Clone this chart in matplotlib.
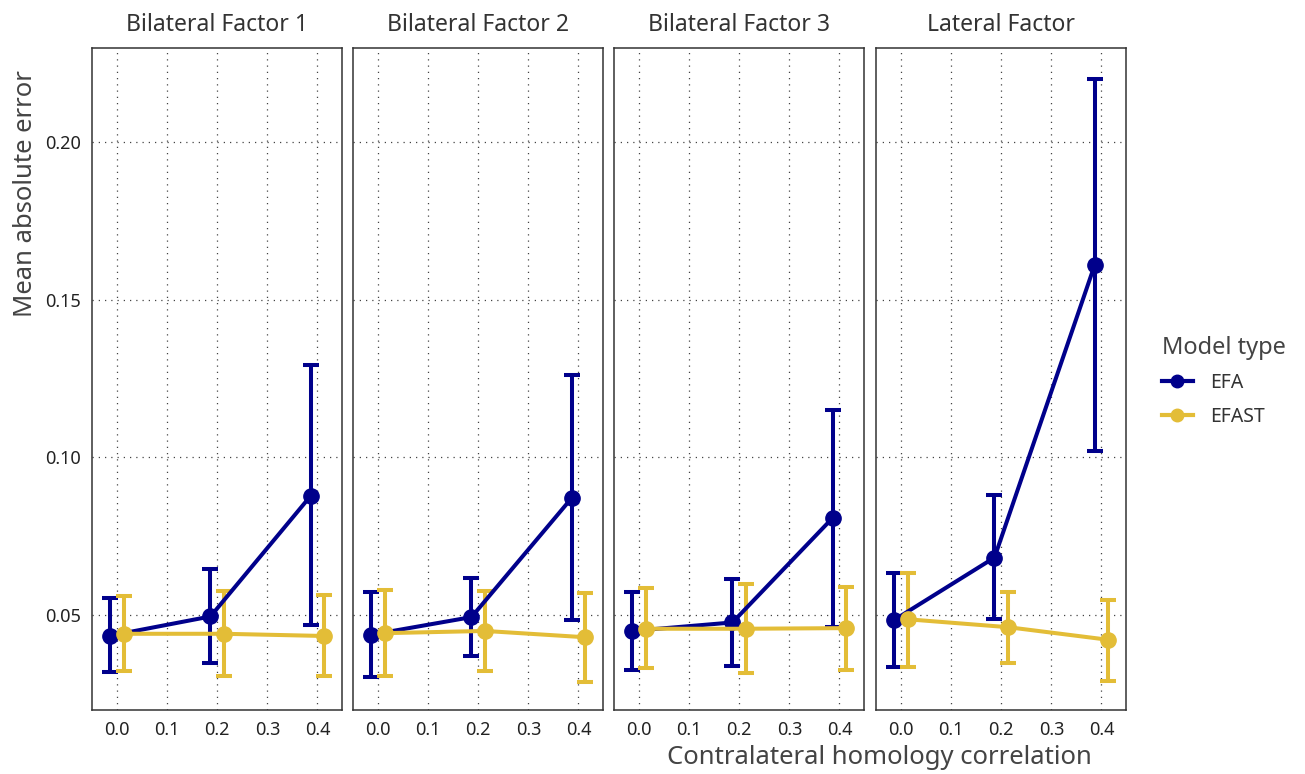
import numpy as np
import matplotlib.pyplot as plt
from matplotlib.lines import Line2D

plt.rcParams['font.family'] = ['Noto Sans', 'DejaVu Sans']

panels = ["Bilateral Factor 1", "Bilateral Factor 2", "Bilateral Factor 3", "Lateral Factor"]
corr = [0.0, 0.2, 0.4]

# mean absolute error, lower / upper error bar, per panel
efa_mean = [[0.0434, 0.0495, 0.0878], [0.0437, 0.0493, 0.0871],
            [0.0449, 0.0476, 0.0808], [0.0484, 0.0682, 0.1611]]
efa_lo = [[0.0319, 0.0347, 0.0467], [0.0304, 0.0370, 0.0484],
          [0.0325, 0.0338, 0.0461], [0.0333, 0.0486, 0.1021]]
efa_hi = [[0.0553, 0.0647, 0.1294], [0.0572, 0.0616, 0.1262],
          [0.0574, 0.0614, 0.1151], [0.0634, 0.0881, 0.2202]]

efast_mean = [[0.0440, 0.0440, 0.0433], [0.0442, 0.0449, 0.0429],
              [0.0456, 0.0456, 0.0458], [0.0486, 0.0461, 0.0421]]
efast_lo = [[0.0323, 0.0307, 0.0307], [0.0306, 0.0323, 0.0288],
            [0.0331, 0.0315, 0.0325], [0.0336, 0.0347, 0.0291]]
efast_hi = [[0.0561, 0.0577, 0.0563], [0.0579, 0.0577, 0.0569],
            [0.0585, 0.0597, 0.0590], [0.0634, 0.0574, 0.0548]]

EFA_COL = "#00008b"
EFAST_COL = "#e3bd37"
dodge = 0.0135

fig = plt.figure(figsize=(13.05, 7.74), dpi=100)
W, H = 1305, 774
lefts = [92, 353, 614, 876]
pw = 250
top, bottom = 48, 710

def series(ax, x, m, lo, hi, col):
    x = np.array(x)
    m = np.array(m)
    yerr = [m - np.array(lo), np.array(hi) - m]
    ax.errorbar(x, m, yerr=yerr, color=col, lw=2.9, marker='o', ms=11,
                capsize=5.5, capthick=2.9, elinewidth=2.9, zorder=3)

for i, name in enumerate(panels):
    ax = fig.add_axes([lefts[i] / W, 1 - bottom / H, pw / W, (bottom - top) / H])
    series(ax, np.array(corr) - dodge, efa_mean[i], efa_lo[i], efa_hi[i], EFA_COL)
    series(ax, np.array(corr) + dodge, efast_mean[i], efast_lo[i], efast_hi[i], EFAST_COL)
    ax.set_xlim(-0.05, 0.449)
    ax.set_ylim(0.0198, 0.23)
    ax.set_xticks([0.0, 0.1, 0.2, 0.3, 0.4])
    ax.set_xticklabels(["0.0", "0.1", "0.2", "0.3", "0.4"])
    ax.set_yticks([0.05, 0.10, 0.15, 0.20])
    if i == 0:
        ax.set_yticklabels(["0.05", "0.10", "0.15", "0.20"])
    else:
        ax.set_yticklabels([])
    ax.tick_params(length=0, labelsize=13, colors="#222222", pad=8)
    ax.grid(True, linestyle=(0, (1, 4)), color="#444444", lw=0.9)
    ax.set_axisbelow(True)
    for s in ax.spines.values():
        s.set_color("#333333")
        s.set_linewidth(1.1)
    ax.set_title(name, fontsize=16.5, color="#333333", pad=12)

fig.text(879 / W, 1 - 757 / H, "Contralateral homology correlation",
         ha='center', va='center', fontsize=18.5, color="#444444")
fig.text(26 / W, 1 - 194 / H, "Mean absolute error", rotation=90,
         ha='center', va='center', fontsize=18.5, color="#444444")

handles = [Line2D([], [], color=EFA_COL, lw=3, marker='o', ms=9),
           Line2D([], [], color=EFAST_COL, lw=3, marker='o', ms=9)]
fig.legend(handles, ["EFA", "EFAST"], title="Model type", loc='upper left',
           bbox_to_anchor=(1144 / W, 1 - 318 / H), frameon=False,
           fontsize=14, title_fontsize=17, labelcolor="#333333",
           handlelength=1.6, labelspacing=0.7, handletextpad=0.9)
leg = fig.legends[0]
leg.get_title().set_color("#444444")
leg._legend_box.align = "left"

fig.savefig("out.png", dpi=100)
